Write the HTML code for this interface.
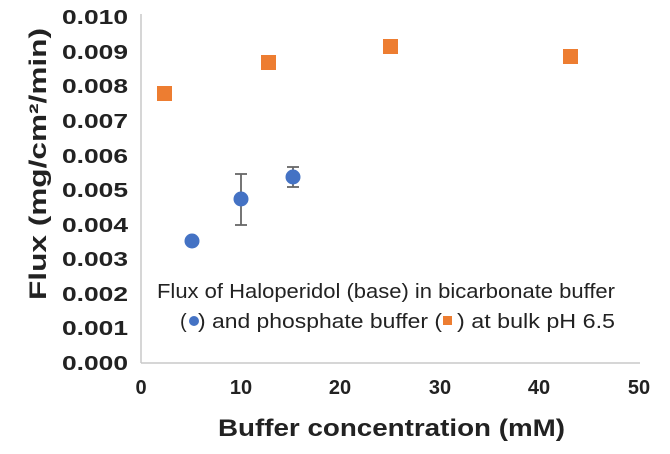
<!DOCTYPE html>
<html><head><style>body{margin:0;background:#fff}</style></head><body>
<svg width="670" height="449" xmlns="http://www.w3.org/2000/svg" font-family="Liberation Sans, sans-serif">
<rect width="670" height="449" fill="#fff"/>
<line x1="141" y1="14" x2="141" y2="363" stroke="#c8c8c8" stroke-width="1.5"/>
<line x1="141" y1="363" x2="640" y2="363" stroke="#c8c8c8" stroke-width="1.5"/>
<g font-size="20" fill="#222" font-weight="bold">
<text x="62" y="370" textLength="66" lengthAdjust="spacingAndGlyphs">0.000</text>
<text x="62" y="335" textLength="66" lengthAdjust="spacingAndGlyphs">0.001</text>
<text x="62" y="301" textLength="66" lengthAdjust="spacingAndGlyphs">0.002</text>
<text x="62" y="266" textLength="66" lengthAdjust="spacingAndGlyphs">0.003</text>
<text x="62" y="232" textLength="66" lengthAdjust="spacingAndGlyphs">0.004</text>
<text x="62" y="197" textLength="66" lengthAdjust="spacingAndGlyphs">0.005</text>
<text x="62" y="163" textLength="66" lengthAdjust="spacingAndGlyphs">0.006</text>
<text x="62" y="128" textLength="66" lengthAdjust="spacingAndGlyphs">0.007</text>
<text x="62" y="93" textLength="66" lengthAdjust="spacingAndGlyphs">0.008</text>
<text x="62" y="59" textLength="66" lengthAdjust="spacingAndGlyphs">0.009</text>
<text x="62" y="24" textLength="66" lengthAdjust="spacingAndGlyphs">0.010</text>
</g>
<g font-size="20" fill="#222" text-anchor="middle" font-weight="bold">
<text x="141" y="394">0</text><text x="241" y="394">10</text><text x="340" y="394">20</text>
<text x="440" y="394">30</text><text x="539" y="394">40</text><text x="639" y="394">50</text>
</g>
<text x="218" y="436" font-size="24" font-weight="bold" fill="#222" textLength="347" lengthAdjust="spacingAndGlyphs">Buffer concentration (mM)</text>
<text transform="translate(46,300) rotate(-90)" font-size="24" font-weight="bold" fill="#222" textLength="272" lengthAdjust="spacingAndGlyphs">Flux (mg/cm²/min)</text>
<g stroke="#666" stroke-width="1.8">
<line x1="241" y1="174" x2="241" y2="225"/><line x1="235" y1="174" x2="247" y2="174"/><line x1="235" y1="225" x2="247" y2="225"/>
<line x1="293" y1="167" x2="293" y2="187"/><line x1="287" y1="167" x2="299" y2="167"/><line x1="287" y1="187" x2="299" y2="187"/>
</g>
<g fill="#4472c4">
<circle cx="192" cy="241" r="7.5"/><circle cx="241" cy="199" r="7.5"/><circle cx="293" cy="177" r="7.5"/>
</g>
<g fill="#ed7d31">
<rect x="157" y="86" width="15" height="15"/><rect x="261" y="55" width="15" height="15"/>
<rect x="383" y="39" width="15" height="15"/><rect x="563" y="49" width="15" height="15"/>
</g>
<g font-size="20" fill="#222">
<text x="157" y="298" textLength="458" lengthAdjust="spacingAndGlyphs">Flux of Haloperidol (base) in bicarbonate buffer</text>
<text x="180" y="328">(</text>
<text x="198" y="328" textLength="244" lengthAdjust="spacingAndGlyphs">) and phosphate buffer (</text>
<text x="457" y="328" textLength="158" lengthAdjust="spacingAndGlyphs">) at bulk pH 6.5</text>
</g>
<circle cx="194" cy="321" r="5" fill="#4472c4"/>
<rect x="443" y="316" width="9" height="9" fill="#ed7d31"/>
</svg>
</body></html>
